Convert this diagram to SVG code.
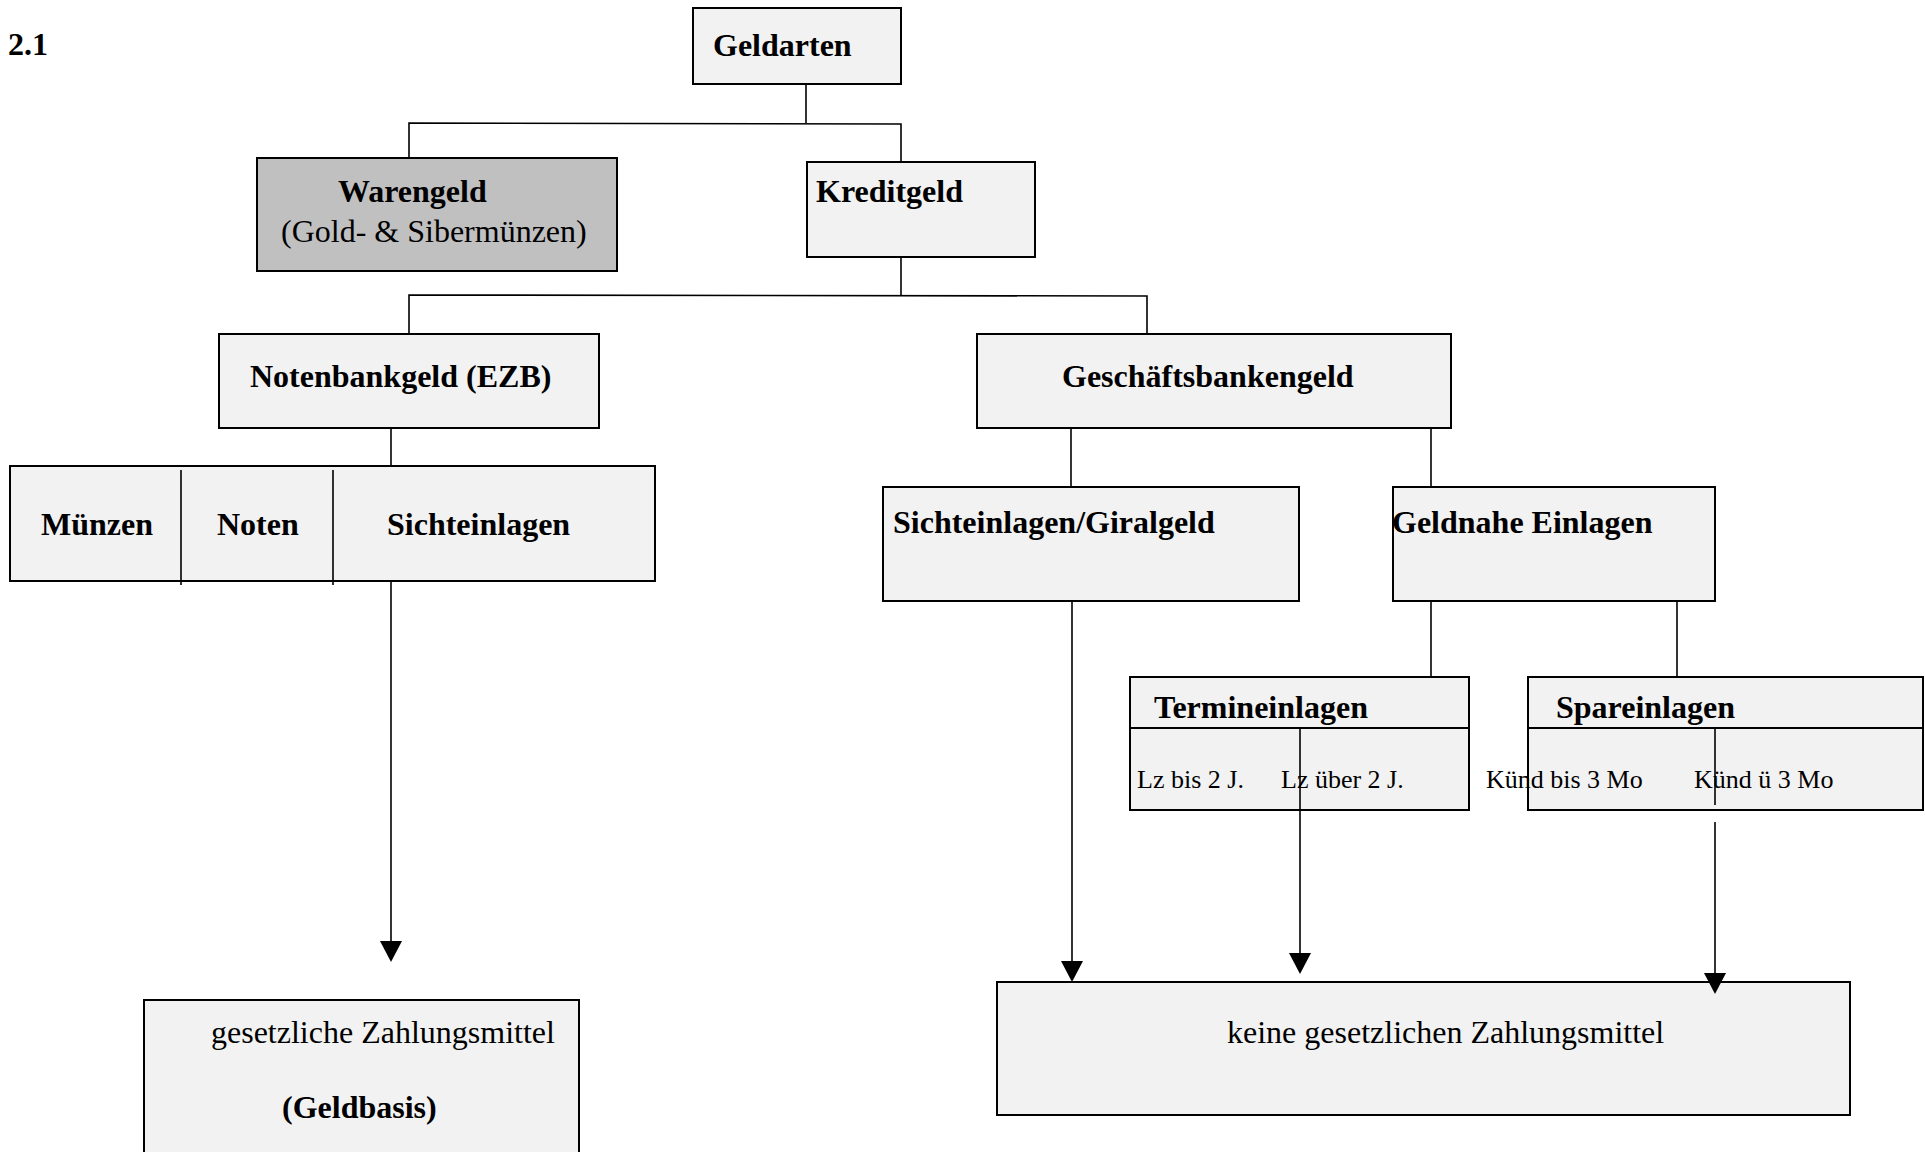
<svg xmlns="http://www.w3.org/2000/svg" width="1925" height="1152" viewBox="0 0 1925 1152">
<style>
.box{fill:#f2f2f2;stroke:#000;stroke-width:2}
.grey{fill:#c0c0c0;stroke:#000;stroke-width:2}
.ln{stroke:#000;stroke-width:1.6;fill:none}
.hd{stroke:#000;stroke-width:2;fill:none}
.b{font-family:"Liberation Serif","Times New Roman",serif;font-weight:bold;font-size:32px;fill:#000}
.r{font-family:"Liberation Serif","Times New Roman",serif;font-size:32px;fill:#000}
.s{font-family:"Liberation Serif","Times New Roman",serif;font-size:26px;fill:#000}
.tip{fill:#000}
</style>
<rect width="1925" height="1152" fill="#fff"/>
<text class="b" x="8" y="55">2.1</text>
<g id="geldarten">
<rect class="box" x="693" y="8" width="208" height="76"/>
<text class="b" x="713" y="56">Geldarten</text>
</g>
<g id="warengeld">
<rect class="grey" x="257" y="158" width="360" height="113"/>
<text class="b" x="338" y="202">Warengeld</text>
<text class="r" x="281" y="242">(Gold- &amp; Sibermünzen)</text>
</g>
<g id="kreditgeld">
<rect class="box" x="807" y="162" width="228" height="95"/>
<text class="b" x="816" y="202">Kreditgeld</text>
</g>
<g id="notenbankgeld">
<rect class="box" x="219" y="334" width="380" height="94"/>
<text class="b" x="250" y="387">Notenbankgeld (EZB)</text>
</g>
<g id="geschaeftsbankengeld">
<rect class="box" x="977" y="334" width="474" height="94"/>
<text class="b" x="1062" y="387">Geschäftsbankengeld</text>
</g>
<g id="muenzen-noten-sichteinlagen">
<rect class="box" x="10" y="466" width="645" height="115"/>
<path class="ln" d="M181,470 V585 M333,470 V585"/>
<text class="b" x="41" y="535">Münzen</text>
<text class="b" x="217" y="535">Noten</text>
<text class="b" x="387" y="535">Sichteinlagen</text>
</g>
<g id="sichteinlagen-giralgeld">
<rect class="box" x="883" y="487" width="416" height="114"/>
<text class="b" x="893" y="533">Sichteinlagen/Giralgeld</text>
</g>
<g id="geldnahe-einlagen">
<rect class="box" x="1393" y="487" width="322" height="114"/>
<text class="b" x="1392" y="533">Geldnahe Einlagen</text>
</g>
<g id="termineinlagen">
<rect class="box" x="1130" y="677" width="339" height="133"/>
<path class="hd" d="M1130,728 H1469"/>
<text class="b" x="1154" y="718">Termineinlagen</text>
<text class="s" x="1137" y="788">Lz bis 2 J.</text>
<text class="s" x="1281" y="788">Lz über 2 J.</text>
</g>
<g id="spareinlagen">
<rect class="box" x="1528" y="677" width="395" height="133"/>
<path class="hd" d="M1528,728 H1923"/>
<path class="ln" d="M1715,728 V805"/>
<text class="b" x="1556" y="718">Spareinlagen</text>
<text class="s" x="1486" y="788">Künd bis 3 Mo</text>
<text class="s" x="1694" y="788">Künd ü 3 Mo</text>
</g>
<g id="gesetzliche-zahlungsmittel">
<rect class="box" x="144" y="1000" width="435" height="170"/>
<text class="r" x="211" y="1043">gesetzliche Zahlungsmittel</text>
<text class="b" x="282" y="1118">(Geldbasis)</text>
</g>
<g id="keine-gesetzlichen-zahlungsmittel">
<rect class="box" x="997" y="982" width="853" height="133"/>
<text class="r" x="1227" y="1043">keine gesetzlichen Zahlungsmittel</text>
</g>
<g id="connectors">
<path class="ln" d="M806,84 V123"/>
<path class="ln" d="M409,158 V123 L901,124 V162"/>
<path class="ln" d="M901,257 V295"/>
<path class="ln" d="M409,334 V295 L1147,296 V334"/>
<path class="ln" d="M391,428 V466"/>
<path class="ln" d="M1071,428 V487"/>
<path class="ln" d="M1431,428 V487"/>
<path class="ln" d="M1431,601 V677"/>
<path class="ln" d="M1677,601 V677"/>
<path class="ln" d="M391,581 V942"/>
<path class="tip" d="M380,941 L402,941 L391,962 Z"/>
<path class="ln" d="M1072,601 V962"/>
<path class="tip" d="M1061,961 L1083,961 L1072,982 Z"/>
<path class="ln" d="M1300,728 V954"/>
<path class="tip" d="M1289,953 L1311,953 L1300,974 Z"/>
<path class="ln" d="M1715,822 V974"/>
<path class="tip" d="M1704,973 L1726,973 L1715,994 Z"/>
</g>
</svg>
